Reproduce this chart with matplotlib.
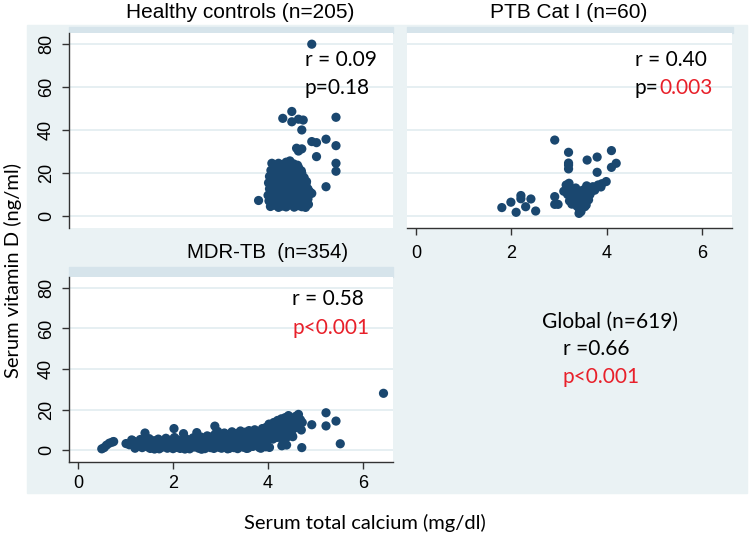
import matplotlib
matplotlib.use("Agg")
import matplotlib.pyplot as plt
from matplotlib.patches import Rectangle
from matplotlib import font_manager

# ---- data ----
hc_pts = [
    # outliers / upper points
    (4.92, 79.9), (4.31, 45.4), (4.50, 48.6), (4.50, 43.8), (4.64, 45.0), (4.74, 44.6),
    (4.71, 40.0), (5.43, 45.9), (4.92, 34.6), (5.02, 34.1), (5.22, 35.7), (5.43, 32.7),
    (4.60, 31.5), (4.71, 31.2), (4.64, 30.2), (5.02, 27.6), (5.43, 24.5), (5.43, 20.8),
    (5.22, 13.6), (3.80, 7.2), (4.71, 19.9), (4.92, 10.5), (4.81, 16.0),
    # main cluster
    (4.05, 4.4), (4.14, 5.0), (4.22, 4.0), (4.30, 4.6), (4.38, 4.2), (4.46, 5.2),
    (4.55, 4.1), (4.63, 4.8), (4.71, 4.3), (4.79, 4.0), (4.85, 5.4),
    (4.02, 7.0), (4.10, 6.4), (4.19, 7.8), (4.27, 6.0), (4.35, 7.2), (4.43, 6.6),
    (4.51, 7.6), (4.59, 6.2), (4.67, 7.4), (4.75, 6.8), (4.84, 7.9),
    (4.00, 9.6), (4.08, 10.8), (4.16, 9.2), (4.25, 10.4), (4.33, 9.8), (4.41, 11.0),
    (4.49, 9.4), (4.57, 10.6), (4.65, 9.0), (4.73, 10.2), (4.82, 9.6), (4.88, 11.2),
    (4.03, 12.6), (4.11, 13.8), (4.20, 12.2), (4.28, 13.4), (4.36, 12.8), (4.44, 14.0),
    (4.52, 12.4), (4.61, 13.6), (4.69, 12.0), (4.77, 13.2), (4.84, 12.6),
    (4.01, 15.4), (4.09, 16.6), (4.18, 15.0), (4.26, 16.2), (4.34, 15.6), (4.42, 17.0),
    (4.50, 15.2), (4.58, 16.4), (4.66, 15.8), (4.74, 16.8), (4.80, 15.0),
    (4.03, 18.4), (4.12, 19.6), (4.21, 18.0), (4.29, 19.2), (4.37, 18.6), (4.45, 20.0),
    (4.53, 18.2), (4.61, 19.4), (4.69, 18.8), (4.76, 17.8),
    (4.06, 21.2), (4.15, 22.4), (4.24, 21.6), (4.32, 22.8), (4.40, 21.0), (4.48, 22.2),
    (4.56, 21.4), (4.64, 22.6), (4.70, 21.0),
    (4.08, 24.5), (4.22, 24.5), (4.30, 23.8), (4.38, 25.0), (4.46, 25.6), (4.54, 24.2),
    (4.62, 23.6),
]

ptb_pts = [
    (1.80, 3.9), (1.99, 6.4), (2.10, 1.7), (2.20, 9.5), (2.20, 8.0), (2.30, 4.3),
    (2.41, 7.9), (2.51, 2.3), (2.91, 35.3), (2.91, 9.0), (2.91, 5.4), (2.98, 5.4),
    (3.20, 29.6), (3.20, 23.7), (3.20, 21.9), (3.20, 24.6), (3.21, 15.2), (3.59, 26.0),
    (3.80, 27.4), (4.10, 30.4), (3.80, 20.3), (4.10, 22.6), (4.20, 24.5), (3.99, 16.0),
    (3.15, 14.4), (3.10, 11.5), (3.18, 10.0), (3.22, 12.5), (3.25, 8.5), (3.28, 11.0),
    (3.30, 6.5), (3.32, 9.5), (3.35, 13.0), (3.38, 4.5), (3.40, 7.5), (3.42, 1.2),
    (3.43, 3.0), (3.45, 10.5), (3.48, 6.0), (3.50, 12.0), (3.54, 4.3), (3.55, 8.5),
    (3.57, 5.1), (3.60, 11.0), (3.61, 12.9), (3.65, 10.0), (3.68, 11.5), (3.71, 13.6),
    (3.75, 12.0), (3.82, 14.4), (3.88, 13.5), (3.90, 15.0), (3.35, 8.0), (3.27, 5.5),
    (3.22, 7.0), (3.36, 11.8), (3.46, 2.0), (3.52, 9.5), (3.62, 7.5), (3.58, 14.0),
]

mdr_pts = [
    (0.50, 0.6), (0.55, 1.2), (0.60, 2.4), (0.66, 3.4), (0.72, 3.9), (0.75, 4.2),
    (1.01, 3.2), (1.08, 2.6), (1.13, 5.0), (1.17, 4.4), (1.20, 0.9), (1.22, 1.8),
    (1.25, 3.6), (1.28, 2.2), (1.31, 5.2), (1.35, 1.2), (1.38, 3.0), (1.41, 8.4),
    (1.43, 4.8), (1.46, 1.6), (1.48, 2.8), (1.50, 5.6),
    (1.52, 0.8), (1.55, 3.4), (1.58, 1.9), (1.60, 4.6), (1.61, 0.5), (1.63, 1.0),
    (1.66, 2.6), (1.69, 5.4), (1.71, 0.6), (1.74, 3.8), (1.77, 1.4), (1.80, 4.2),
    (1.82, 2.2), (1.85, 5.8), (1.88, 0.9), (1.90, 3.1), (1.93, 1.7), (1.96, 4.9),
    (1.98, 2.5), (2.00, 0.7),
    (2.02, 10.6), (2.03, 6.2), (2.05, 3.6), (2.08, 1.3), (2.10, 5.0), (2.12, 2.4),
    (2.15, 0.8), (2.17, 4.1), (2.20, 1.9), (2.22, 8.1), (2.24, 3.0), (2.25, 0.5),
    (2.27, 5.6), (2.29, 1.1), (2.32, 3.7), (2.35, 0.6), (2.37, 4.8), (2.40, 2.2),
    (2.42, 6.0), (2.45, 1.5), (2.47, 3.3), (2.50, 8.6),
    (2.52, 5.2), (2.54, 0.9), (2.57, 2.8), (2.59, 6.4), (2.60, 0.4), (2.62, 1.6),
    (2.64, 4.2), (2.67, 0.7), (2.69, 3.5), (2.72, 7.0), (2.74, 2.0), (2.77, 5.4),
    (2.79, 1.2), (2.82, 3.9), (2.84, 6.8), (2.86, 0.8), (2.88, 11.8), (2.89, 8.0),
    (2.90, 2.6), (2.92, 5.0), (2.94, 9.2), (2.96, 1.4), (2.98, 3.6), (3.00, 7.4),
    (3.02, 0.9), (3.04, 4.8), (3.06, 2.4), (3.08, 8.4), (3.10, 6.0), (3.12, 1.5),
    (3.14, 3.4), (3.15, 0.6), (3.16, 7.6), (3.18, 0.8), (3.20, 5.4), (3.22, 2.8),
    (3.24, 9.0), (3.26, 4.2), (3.28, 1.2), (3.30, 6.6), (3.32, 3.0), (3.34, 8.2),
    (3.36, 0.7), (3.38, 5.0), (3.40, 2.0), (3.42, 9.4), (3.44, 7.0), (3.46, 3.8),
    (3.48, 1.4), (3.50, 6.0),
    (3.52, 8.8), (3.54, 2.6), (3.55, 0.8), (3.56, 4.6), (3.58, 1.0), (3.60, 9.6),
    (3.62, 7.2), (3.64, 3.2), (3.66, 5.6), (3.68, 1.8), (3.70, 8.0), (3.72, 10.0),
    (3.74, 4.0), (3.76, 6.4), (3.78, 2.4), (3.80, 9.0), (3.82, 1.2), (3.84, 5.2),
    (3.85, 0.9), (3.86, 7.6), (3.88, 10.6), (3.90, 3.4), (3.92, 8.4), (3.94, 6.0),
    (3.95, 1.6), (3.96, 11.2), (3.98, 4.6), (4.00, 9.6),
    (4.02, 12.8), (4.03, 1.3), (4.05, 7.4), (4.08, 10.4), (4.10, 5.4), (4.12, 13.6),
    (4.14, 8.6), (4.16, 11.6), (4.18, 6.2), (4.20, 14.6), (4.22, 9.4), (4.24, 12.0),
    (4.26, 7.0), (4.28, 15.4), (4.29, 2.1), (4.30, 10.6), (4.31, 4.6), (4.32, 13.0),
    (4.34, 8.0), (4.36, 16.0), (4.38, 11.4), (4.39, 2.5), (4.40, 6.4), (4.42, 14.2),
    (4.43, 17.0), (4.45, 9.2), (4.47, 12.6), (4.49, 15.6), (4.50, 7.6), (4.52, 6.6),
    (4.54, 10.6), (4.56, 13.8), (4.58, 16.6), (4.60, 11.2), (4.62, 14.8), (4.64, 17.6),
    (4.66, 12.4), (4.68, 15.0), (4.70, 9.9), (4.71, 1.2), (4.72, 13.6),
    (4.92, 12.5), (5.22, 18.4), (5.22, 11.9), (5.43, 14.3), (5.52, 3.1), (6.43, 28.0),
]

yticks = [0, 20, 40, 60, 80]
xticks = [0, 2, 4, 6]

hc_title = "Healthy controls (n=205)"
ptb_title = "PTB Cat I (n=60)"
mdr_title = "MDR-TB  (n=354)"

# ---- style ----
W, H = 750, 537
navy = "#1a476f"
red = "#e8202a"
bg = "#eaf2f4"
band = "#d6e4eb"
gridc = "#e2ecf0"
axc = "#333333"

names = {f.name for f in font_manager.fontManager.ttflist}
tickfont = "Liberation Sans Narrow" if "Liberation Sans Narrow" in names else "Liberation Sans"
textfont = "Lato"
titlefont = "Liberation Sans"


def fx(px):
    return px / W


def fy(py):
    return 1 - py / H


fig = plt.figure(figsize=(7.5, 5.37), dpi=100)

# light background of the graph region (behind the axes)
fig.patches.append(Rectangle((fx(27), fy(493)), (747 - 27) / W, (493 - 25) / H,
                             transform=fig.transFigure, color=bg, zorder=-2))

ax1 = fig.add_axes([fx(69), fy(228), (393 - 69) / W, (228 - 33) / H])
ax2 = fig.add_axes([fx(407), fy(228), (732 - 407) / W, (228 - 33) / H])
ax3 = fig.add_axes([fx(69), fy(462), (393 - 69) / W, (462 - 277) / H])

# title bands above each plot area
for x0, x1, y0, y1 in [(69, 393, 27, 33), (407, 733, 27, 33), (69, 393, 267, 277)]:
    fig.patches.append(Rectangle((fx(x0), fy(y1)), (x1 - x0) / W, (y1 - y0) / H,
                                 transform=fig.transFigure, color=band, zorder=-1))

for ax, pts in [(ax1, hc_pts), (ax2, ptb_pts), (ax3, mdr_pts)]:
    xs, ys = zip(*pts)
    ax.scatter(xs, ys, s=44, color=navy, edgecolors="none", zorder=3)
    ax.set_facecolor("white")
    ax.set_xlim(-0.19, 6.63)
    ax.set_yticks(yticks)
    ax.set_xticks(xticks)
    ax.grid(axis="y", color=gridc, lw=1.2, zorder=0)
    ax.set_axisbelow(True)
    for s in ["top", "right"]:
        ax.spines[s].set_visible(False)
    for s in ["left", "bottom"]:
        ax.spines[s].set_color(axc)
        ax.spines[s].set_linewidth(1)
    ax.tick_params(direction="out", length=5, width=1, color=axc, labelsize=13)
    for lab in ax.get_xticklabels() + ax.get_yticklabels():
        lab.set_fontfamily(tickfont)

ax1.set_ylim(-5.6, 85.1)
ax2.set_ylim(-5.6, 85.1)
ax3.set_ylim(-5.9, 85.4)

# top-left: y axis only
ax1.spines["bottom"].set_visible(False)
ax1.tick_params(axis="x", bottom=False, labelbottom=False)
# top-right: x axis only
ax2.spines["left"].set_visible(False)
ax2.tick_params(axis="y", left=False, labelleft=False)
ax2.tick_params(axis="x", pad=7)
ax3.tick_params(axis="x", pad=4)

for ax in (ax1, ax3):
    ax.tick_params(axis="y", pad=5, labelrotation=90)
    for lab in ax.get_yticklabels():
        lab.set_va("center")

# panel titles
fig.text(fx(240), fy(13), hc_title, ha="center", va="center", fontsize=15, family=titlefont)
fig.text(fx(569), fy(13), ptb_title, ha="center", va="center", fontsize=15, family=titlefont)
fig.text(fx(268), fy(252), mdr_title, ha="center", va="center", fontsize=14.7, family=titlefont)

# correlation annotations
fs = 15
fig.text(fx(305), fy(60), "r = 0.09", va="center", fontsize=fs, family=textfont)
fig.text(fx(305), fy(88), "p=0.18", va="center", fontsize=fs, family=textfont)
fig.text(fx(635), fy(60), "r = 0.40", va="center", fontsize=fs, family=textfont)
t = fig.text(fx(635), fy(88), "p=", va="center", fontsize=fs, family=textfont)
ax2.annotate("0.003", xy=(1, 0), xycoords=t, va="bottom", ha="left",
             fontsize=fs, family=textfont, color=red, annotation_clip=False)
fig.text(fx(292), fy(299), "r = 0.58", va="center", fontsize=fs, family=textfont)
fig.text(fx(292), fy(328), "p<0.001", va="center", fontsize=fs, family=textfont, color=red)
fig.text(fx(542), fy(322), "Global (n=619)", va="center", fontsize=fs, family=textfont)
fig.text(fx(563), fy(349), "r =0.66", va="center", fontsize=fs, family=textfont)
fig.text(fx(563), fy(377), "p<0.001", va="center", fontsize=fs, family=textfont, color=red)

# axis titles
fig.text(fx(13), fy(271), "Serum vitamin D (ng/ml)", rotation=90, ha="center", va="center",
         fontsize=14.5, family=textfont)
fig.text(fx(365), fy(523), "Serum total calcium (mg/dl)", ha="center", va="center",
         fontsize=14.5, family=textfont)

fig.savefig("out.png", dpi=100)
